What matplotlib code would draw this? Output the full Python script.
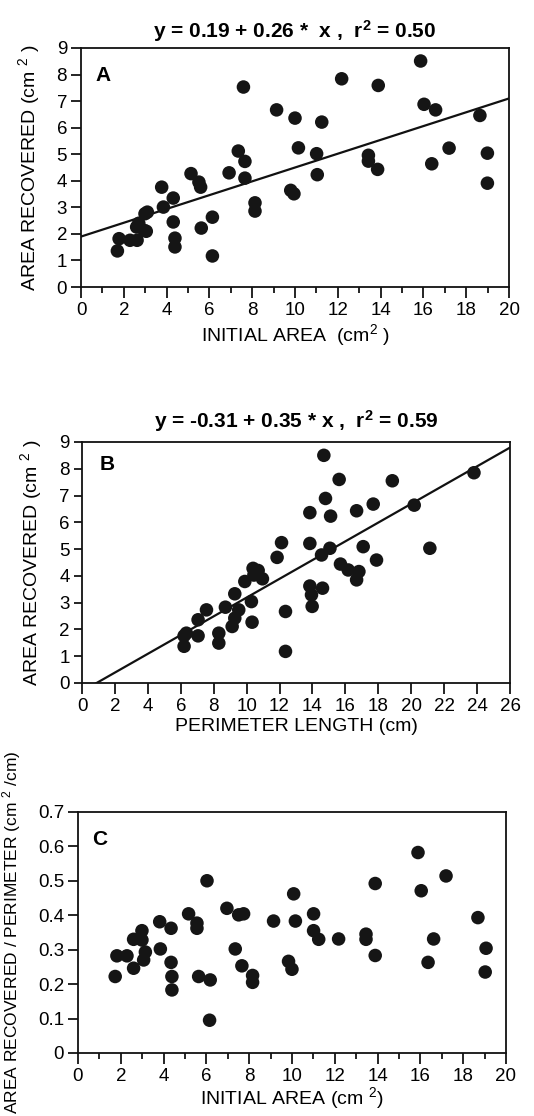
import numpy as np
import matplotlib
matplotlib.use("Agg")
import matplotlib.pyplot as plt
from matplotlib.ticker import MultipleLocator, FuncFormatter

plt.rcParams['font.family'] = ['Liberation Sans', 'DejaVu Sans']
plt.rcParams['mathtext.fontset'] = 'custom'
plt.rcParams['mathtext.rm'] = 'Liberation Sans'
plt.rcParams['mathtext.bf'] = 'Liberation Sans:bold'
plt.rcParams['mathtext.default'] = 'regular'

# panel A: initial area vs area recovered
area_a = [1.70, 1.78, 2.29, 2.62, 2.60, 2.70, 2.95, 3.05, 2.99, 3.10, 3.77, 3.85,
          4.31, 4.31, 4.39, 4.39, 5.14, 5.51, 5.59, 5.62, 6.14, 6.14, 6.92, 7.35,
          7.59, 7.66, 7.66, 8.13, 8.13, 9.14, 9.80, 9.95, 10.0, 10.16, 11.01, 11.04,
          11.25, 12.18, 13.43, 13.43, 13.86, 13.89, 15.87, 16.03, 16.39, 16.57,
          17.20, 18.64, 18.99, 18.99]
rec_a = [1.36, 1.82, 1.76, 1.76, 2.26, 2.40, 2.13, 2.10, 2.76, 2.82, 3.76, 3.01,
         3.35, 2.45, 1.84, 1.51, 4.27, 3.95, 3.76, 2.22, 2.63, 1.17, 4.30, 5.12,
         7.53, 4.73, 4.10, 3.17, 2.86, 6.67, 3.64, 3.51, 6.36, 5.24, 5.02, 4.23,
         6.21, 7.84, 4.96, 4.74, 4.43, 7.59, 8.51, 6.88, 4.64, 6.67, 5.23, 6.46,
         5.04, 3.91]
fit_a = (1.9, 0.26)   # line as drawn

# panel B: perimeter vs area recovered
perim_b = [6.20, 6.20, 6.34, 7.05, 7.05, 7.56, 8.31, 8.31, 8.71, 9.12, 9.28, 9.28,
           9.52, 9.89, 10.33, 10.29, 10.39, 10.44, 10.70, 10.96, 11.85, 12.12,
           12.36, 12.36, 13.84, 13.84, 13.84, 13.94, 13.98, 14.61, 14.55, 14.69,
           14.79, 15.06, 15.10, 15.62, 15.70, 16.17, 16.68, 16.68, 16.82, 17.08,
           17.69, 17.89, 18.85, 20.18, 21.13, 23.81]
rec_b = [1.37, 1.76, 1.86, 1.76, 2.36, 2.73, 1.49, 1.86, 2.83, 2.11, 2.42, 3.33,
         2.73, 3.79, 2.27, 3.04, 4.28, 4.03, 4.20, 3.89, 4.69, 5.24, 2.67, 1.18,
         6.36, 5.21, 3.62, 3.29, 2.86, 3.54, 4.78, 8.50, 6.89, 5.03, 6.23, 7.60,
         4.44, 4.22, 6.43, 3.85, 4.16, 5.09, 6.68, 4.59, 7.55, 6.64, 5.03, 7.85]
fit_b = (-0.31, 0.35)

# panel C: initial area vs recovered / perimeter
area_c = [1.74, 1.82, 2.29, 2.60, 2.60, 2.99, 2.99, 3.07, 3.15, 3.82, 3.85, 4.35,
          4.35, 4.39, 4.39, 5.17, 5.56, 5.56, 5.64, 6.03, 6.18, 6.15, 6.96, 7.35,
          7.51, 7.74, 7.66, 8.16, 8.16, 9.14, 9.84, 10.0, 10.08, 10.16, 11.01,
          11.01, 11.25, 12.18, 13.46, 13.46, 13.89, 13.89, 15.89, 16.04, 16.36,
          16.62, 17.20, 18.69, 19.07, 19.03]
ratio_c = [0.222, 0.282, 0.282, 0.246, 0.330, 0.355, 0.328, 0.270, 0.293, 0.381,
           0.302, 0.362, 0.263, 0.222, 0.183, 0.404, 0.377, 0.362, 0.222, 0.500,
           0.212, 0.095, 0.420, 0.302, 0.401, 0.404, 0.253, 0.225, 0.205, 0.383,
           0.266, 0.243, 0.462, 0.383, 0.404, 0.355, 0.330, 0.331, 0.345, 0.330,
           0.492, 0.283, 0.582, 0.471, 0.263, 0.331, 0.514, 0.393, 0.304, 0.235]

dot = '#151515'
fig = plt.figure(figsize=(5.34, 11.16), dpi=100)


def style(ax, xmax, ymax, ystep, xminor):
    ax.set_xlim(0, xmax)
    ax.set_ylim(0, ymax)
    ax.xaxis.set_major_locator(MultipleLocator(2))
    if xminor:
        ax.xaxis.set_minor_locator(MultipleLocator(1))
    ax.yaxis.set_major_locator(MultipleLocator(ystep))
    for s in ax.spines.values():
        s.set_linewidth(1.3)
        s.set_color('#111111')
    ax.tick_params(axis='x', which='major', direction='out', length=8, width=1.2,
                   labelsize=13.5, pad=3)
    ax.tick_params(axis='x', which='minor', direction='out', length=4.5, width=1.2)
    ax.tick_params(axis='y', direction='out', length=7, width=1.2,
                   labelsize=13.5, pad=3)


# A
ax = fig.add_axes([0.1517, 0.7428, 0.8015, 0.2142])
ax.scatter(area_a, rec_a, s=95, color=dot, edgecolors='none', zorder=3)
xs = np.array([0, 20])
ax.plot(xs, fit_a[0] + fit_a[1] * xs, color='#111111', lw=1.6, zorder=2)
style(ax, 20, 9, 1, True)
ax.set_title(r'y = 0.19 + 0.26 *  x ,  r$^{\mathbf{2}}$ = 0.50', fontsize=15,
             fontweight='bold', pad=7)
ax.set_xlabel(r'INITIAL AREA  (cm$^{2}$ )', fontsize=14, labelpad=2)
ax.set_ylabel(r'AREA RECOVERED (cm $^{2}$ )', fontsize=14)
ax.yaxis.set_label_coords(-0.09, 0.5)
ax.text(0.033, 0.925, 'A', transform=ax.transAxes, fontsize=15,
        fontweight='bold', va='top', ha='left')

# B
ax = fig.add_axes([0.1536, 0.388, 0.8015, 0.216])
ax.scatter(perim_b, rec_b, s=95, color=dot, edgecolors='none', zorder=3)
xs = np.array([0, 26])
ax.plot(xs, fit_b[0] + fit_b[1] * xs, color='#111111', lw=1.6, zorder=2)
style(ax, 26, 9, 1, False)
ax.tick_params(axis='y', length=6)
ax.set_title(r'y = -0.31 + 0.35 * x ,  r$^{\mathbf{2}}$ = 0.59', fontsize=15,
             fontweight='bold', pad=10)
ax.set_xlabel('PERIMETER LENGTH (cm)', fontsize=14, labelpad=2)
ax.set_ylabel(r'AREA RECOVERED (cm $^{2}$ )', fontsize=14)
ax.yaxis.set_label_coords(-0.09, 0.5)
ax.text(0.04, 0.945, 'B', transform=ax.transAxes, fontsize=15,
        fontweight='bold', va='top', ha='left')

# C
ax = fig.add_axes([0.146, 0.0565, 0.8015, 0.216])
ax.scatter(area_c, ratio_c, s=95, color=dot, edgecolors='none', zorder=3)
style(ax, 20, 0.7, 0.1, True)
ax.yaxis.set_major_formatter(FuncFormatter(lambda v, p: '0' if abs(v) < 1e-9 else f'{v:.1f}'))
ax.set_xlabel(r'INITIAL AREA (cm $^{2}$)', fontsize=14, labelpad=0)
ax.set_ylabel(r'AREA RECOVERED / PERIMETER (cm $^{2}$ /cm)', fontsize=12.5)
ax.yaxis.set_label_coords(-0.128, 0.5)
ax.text(0.032, 0.925, 'C', transform=ax.transAxes, fontsize=15,
        fontweight='bold', va='top', ha='left')

fig.savefig('out.png', dpi=100)
